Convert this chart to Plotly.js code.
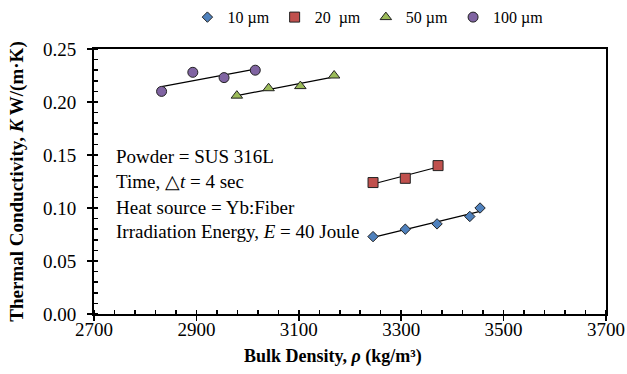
<!DOCTYPE html>
<html><head><meta charset="utf-8">
<script src="https://cdn.plot.ly/plotly-3.0.1.min.js"></script>
<style>html,body{margin:0;padding:0;background:#fff}#chart{width:627px;height:374px}</style>
</head><body><div id="chart"></div>
<script>
const seriesNames = ['10 µm', '20\u00a0\u00a0µm', '50 µm', '100 µm'];
const x10 = [3245, 3308, 3370, 3434, 3454];
const y10 = [0.073, 0.080, 0.085, 0.092, 0.100];
const x20 = [3245, 3308, 3372];
const y20 = [0.124, 0.128, 0.140];
const x50 = [2979, 3041, 3103, 3169];
const y50 = [0.206, 0.213, 0.215, 0.225];
const x100 = [2832, 2893, 2954, 3015];
const y100 = [0.210, 0.228, 0.223, 0.230];
const xTicks = [2700, 2900, 3100, 3300, 3500, 3700];
const yTicks = [0.00, 0.05, 0.10, 0.15, 0.20, 0.25];

const FONT = 'Liberation Serif, Times New Roman, serif';
function fit(xs, ys) {
  const n = xs.length;
  const mx = xs.reduce((a,b)=>a+b,0)/n, my = ys.reduce((a,b)=>a+b,0)/n;
  let sxy=0, sxx=0;
  for (let i=0;i<n;i++){ sxy+=(xs[i]-mx)*(ys[i]-my); sxx+=(xs[i]-mx)**2; }
  const m = sxy/sxx, b = my - m*mx;
  const x0 = Math.min(...xs), x1 = Math.max(...xs);
  return {x:[x0,x1], y:[m*x0+b, m*x1+b]};
}
const specs = [
  {x:x10, y:y10, sym:'diamond', col:'#4F81BD', size:8},
  {x:x20, y:y20, sym:'square', col:'#C0504D', size:10},
  {x:x50, y:y50, sym:'triangle-up', col:'#9BBB59', size:10},
  {x:x100, y:y100, sym:'circle', col:'#8064A2', size:10}
];
const traces = [];
specs.forEach((s,i)=>{
  const f = fit(s.x, s.y);
  traces.push({x:f.x, y:f.y, mode:'lines', line:{color:'#000', width:1.2}, showlegend:false, hoverinfo:'skip'});
});
specs.forEach((s,i)=>{
  traces.push({x:s.x, y:s.y, mode:'markers', name:seriesNames[i],
    marker:{symbol:s.sym, color:s.col, size:s.size, line:{color:'#222', width:1}}});
});
const ann = [
  {t:'Powder = SUS 316L', y:0.594},
  {t:'Time, △<i>t</i> = 4 sec', y:0.499},
  {t:'Heat source = Yb:Fiber', y:0.401},
  {t:'Irradiation Energy, <i>E</i> = 40 Joule', y:0.310}
].map(a=>({text:a.t, xref:'paper', yref:'paper', x:0.04, y:a.y, xanchor:'left', yanchor:'middle',
  showarrow:false, font:{family:FONT, size:19, color:'#000'}}));
ann.push({text:'<b>Bulk Density, <i>ρ</i> (kg/m³)</b>', xref:'paper', yref:'paper', x:0.467, y:-0.16,
  xanchor:'center', yanchor:'middle', showarrow:false, font:{family:FONT, size:18, color:'#000'}});

const layout = {
  width:627, height:374,
  margin:{l:94, r:21, t:49, b:60, autoexpand:false},
  paper_bgcolor:'#fff', plot_bgcolor:'#fff',
  font:{family:FONT, color:'#000'},
  showlegend:true,
  legend:{orientation:'h', x:0.535, xanchor:'center', y:1.12, yanchor:'middle',
    font:{family:FONT, size:16, color:'#000'}, itemwidth:30, tracegroupgap:0, bgcolor:'rgba(0,0,0,0)'},
  xaxis:{range:[2700,3700], tickvals:xTicks, ticktext:xTicks.map(String),
    showgrid:false, zeroline:false, showline:true, linecolor:'#000', linewidth:2, mirror:true,
    ticks:'outside', ticklen:5, tickwidth:1.5, tickcolor:'#000', ticklabelstandoff:-8,
    minor:{dtick:40, tick0:2700, ticks:'inside', ticklen:4, tickwidth:1.5, tickcolor:'#000', showgrid:false},
    tickfont:{family:FONT, size:19, color:'#000'}},
  yaxis:{range:[0,0.25], tickvals:yTicks, ticktext:yTicks.map(v=>v.toFixed(2)),
    showgrid:false, zeroline:false, showline:true, linecolor:'#000', linewidth:2, mirror:true,
    ticks:'outside', ticklen:5, tickwidth:1.5, tickcolor:'#000', ticklabelstandoff:7,
    minor:{dtick:0.01, tick0:0, ticks:'inside', ticklen:4, tickwidth:1.5, tickcolor:'#000', showgrid:false},
    tickfont:{family:FONT, size:19, color:'#000'},
    title:{text:'<b>Thermal Conductivity, <i>K</i> W/(m·K)</b>', font:{family:FONT, size:19, color:'#000'}, standoff:14}},
  annotations:ann
};
Plotly.newPlot('chart', traces, layout, {displayModeBar:false, staticPlot:true});
</script></body></html>
